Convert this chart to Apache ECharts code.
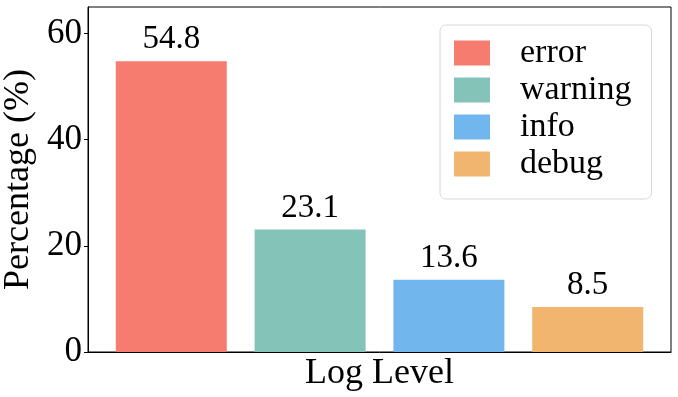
<!DOCTYPE html>
<html>
<head>
<meta charset="utf-8">
<script src="https://cdn.jsdelivr.net/npm/echarts@6/dist/echarts.min.js"></script>
<style>
  html, body { margin: 0; padding: 0; background: #fff; }
  #chart { width: 678px; height: 397px; }
</style>
</head>
<body>
<div id="chart"></div>
<script>
const levels = ['error', 'warning', 'info', 'debug'];
const percentages = [54.8, 23.1, 13.6, 8.5];
const colors = ['#f57c6e', '#84c3b7', '#71b7ed', '#f2b56f'];
const yTicks = [0, 20, 40, 60];

const font = 'Liberation Serif';
const chart = echarts.init(document.getElementById('chart'));

const series = levels.map((name, i) => ({
  name: name,
  type: 'bar',
  barWidth: 111,
  barGap: '-100%',
  itemStyle: { color: colors[i] },
  label: {
    show: true,
    position: 'top',
    distance: 5,
    color: '#000',
    fontFamily: font,
    fontSize: 33,
    formatter: p => p.value[1].toFixed(1)
  },
  data: [[i, percentages[i]]]
}));

chart.setOption({
  animation: false,
  grid: {
    left: 88, right: 7, top: 7, bottom: 45,
    outerBoundsMode: 'none',
    containLabel: false,
    show: true, borderColor: '#000', borderWidth: 1
  },
  legend: {
    orient: 'vertical',
    left: 440, top: 25,
    data: levels,
    icon: 'rect',
    itemWidth: 36,
    itemHeight: 25,
    itemGap: 3,
    padding: [11, 20, 18, 14],
    backgroundColor: '#fff',
    borderColor: '#d6d6d6',
    borderWidth: 1,
    borderRadius: 6,
    textStyle: { fontFamily: font, fontSize: 34, color: '#000', padding: [0, 0, 0, 25] }
  },
  xAxis: {
    type: 'value',
    min: -0.6,
    max: 3.6,
    name: 'Log Level',
    nameLocation: 'middle',
    nameGap: 4,
    nameTextStyle: { fontFamily: font, fontSize: 36, color: '#000' },
    axisLine: { show: true, lineStyle: { color: '#000' } },
    axisTick: { show: false },
    axisLabel: { show: false },
    splitLine: { show: false }
  },
  yAxis: {
    type: 'value',
    min: 0,
    max: 65,
    interval: 20,
    name: 'Percentage (%)',
    nameLocation: 'middle',
    nameGap: 37,
    nameTextStyle: { fontFamily: font, fontSize: 36, color: '#000' },
    axisLine: { show: true, onZero: false, lineStyle: { color: '#000' } },
    axisTick: { show: true, length: 4, customValues: yTicks, lineStyle: { color: '#000' } },
    axisLabel: {
      fontFamily: font, fontSize: 35, color: '#000', margin: 6,
      customValues: yTicks
    },
    splitLine: { show: false }
  },
  series: series
});
window.addEventListener('resize', () => chart.resize());
</script>
</body>
</html>
